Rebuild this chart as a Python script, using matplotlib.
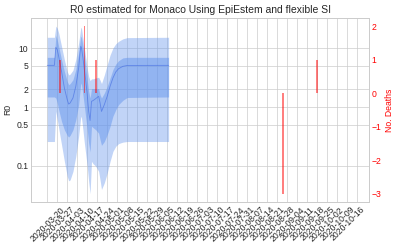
import numpy as np
import pandas as pd
import matplotlib
matplotlib.use("Agg")
import matplotlib.pyplot as plt

plt.style.use("seaborn-v0_8-whitegrid")
plt.rcParams.update({"font.size": 10, "xtick.labelsize": 10, "ytick.labelsize": 10,
                     "axes.labelsize": 10, "axes.titlesize": 12})

# R0 estimates (days after 2020-03-20)
r_days = [0, 5, 6, 7, 8, 10, 12, 14, 15, 16, 18, 20, 22, 23, 23.5, 24, 25, 26, 27, 28,
          29, 30, 31, 32, 34, 36, 37, 38, 40, 42, 44, 46, 48, 50, 53, 56, 85]
r_mean = [5.08, 5.08, 10.3, 9.37, 7.22, 4.02, 2.10, 1.33, 1.12, 1.17, 1.42, 2.24, 4.58, 8.5, 10.7, 10.0,
          6.77, 4.30, 2.72, 1.62, 0.84, 0.59, 1.25, 1.28, 1.39, 1.52, 1.17, 0.84, 1.10, 1.52,
          2.24, 3.10, 3.93, 4.47, 4.89, 5.06, 5.08]
r_q25 = [1.48, 1.48, 1.42, 1.17, 0.90, 0.57, 0.41, 0.33, 0.31, 0.33, 0.41, 0.61, 1.10, 1.97, 2.55,
         2.39, 1.62, 1.03, 0.65, 0.41, 0.245, 0.173, 0.47, 0.45, 0.41, 0.36, 0.28, 0.224, 0.26,
         0.34, 0.47, 0.70, 0.90, 1.10, 1.30, 1.45, 1.48]
r_q75 = [6.95, 6.95, 16.4, 13.8, 10.7, 6.3, 4.0, 2.72, 2.39, 2.49, 2.9, 4.3, 8.2, 13.0, 15.8,
         15.2, 10.7, 7.2, 4.6, 2.9, 1.85, 1.42, 2.05, 2.05, 2.05, 2.05, 1.62, 1.42, 1.73,
         2.24, 3.1, 4.3, 5.35, 6.1, 6.8, 6.95, 6.95]
r_q05 = [0.26, 0.26, 0.85, 0.62, 0.44, 0.23, 0.12, 0.067, 0.056, 0.058, 0.081, 0.146, 0.32, 0.54,
         0.70, 0.65, 0.41, 0.245, 0.156, 0.099, 0.055, 0.034, 0.12, 0.11, 0.099, 0.081, 0.058,
         0.040, 0.052, 0.076, 0.12, 0.177, 0.216, 0.24, 0.254, 0.26, 0.26]
r_q95 = [15.2, 15.2, 23.5, 21.8, 18.0, 10.7, 6.3, 4.0, 3.5, 3.6, 4.2, 6.4, 12.2, 18.0, 22.5,
         21.5, 14.5, 9.9, 6.7, 4.5, 3.3, 2.8, 3.0, 3.0, 3.1, 3.2, 2.85, 2.5, 3.5, 5.2,
         7.6, 10.0, 11.8, 13.0, 14.3, 15.0, 15.2]

# daily deaths (only non-zero days listed)
death_span = ["2020-03-20", "2020-10-20"]
death_dates = ["2020-03-29", "2020-04-15", "2020-04-23", "2020-09-01", "2020-09-25"]
death_values = [1, 2, 1, -3, 1]

start = pd.Timestamp("2020-03-20")
r_dates = [start + pd.Timedelta(days=d) for d in r_days]

deaths = pd.Series(0, index=pd.date_range(*death_span, freq="D"))
deaths[pd.to_datetime(death_dates)] = death_values

tick_dates = pd.date_range("2020-03-20", periods=32, freq="7D")
tick_labels = [d.strftime("%Y-%m-%d") for d in tick_dates[:-1]] + [""]

fig, ax = plt.subplots(figsize=(6.4, 4), dpi=62.5)
fig.subplots_adjust(left=0.078, right=0.922, top=0.929, bottom=0.192)

ax.fill_between(r_dates, r_q05, r_q95, color="cornflowerblue", alpha=0.4, lw=0)
ax.fill_between(r_dates, r_q25, r_q75, color="cornflowerblue", alpha=0.5, lw=0)
ax.plot(r_dates, r_mean, color="royalblue", alpha=0.6, lw=1)
ax.set_yscale("log")
ax.set_yticks([0.1, 0.5, 1, 2, 5, 10])
ax.set_yticklabels(["0.1", "0.5", "1", "2", "5", "10"])
ax.set_ylabel("R0")
ax.set_xticks(tick_dates)
ax.set_xticklabels(tick_labels, rotation=45)
ax.set_title("R0 estimated for Monaco Using EpiEstem and flexible SI")

ax2 = ax.twinx()
ax2.bar(deaths.index, deaths.values, width=1.0, color="red", alpha=0.5, linewidth=0)
ax2.grid(False)
ax2.set_ylabel("No. Deaths", color="red")
ax2.tick_params(axis="y", labelcolor="red")

fig.savefig("out.png")
